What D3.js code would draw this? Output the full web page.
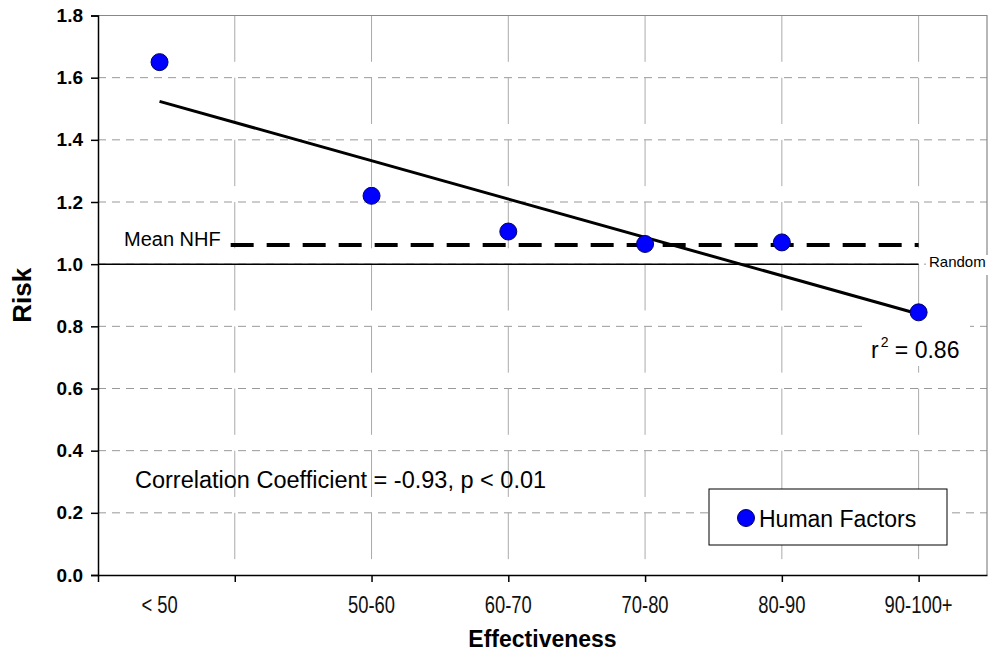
<!DOCTYPE html>
<html lang="en">
<head>
  <meta charset="UTF-8">
  <title>Risk vs Effectiveness</title>
  <script src="https://d3js.org/d3.v7.min.js"></script>
  <style>
    body { margin: 0; background: #fff; font-family: "Liberation Sans", Arial, Helvetica, sans-serif; }
    svg { display: block; }
  </style>
</head>
<body>
<div id="chart"></div>
<script>
// data
var categories = ["< 50", "50-60", "60-70", "70-80", "80-90", "90-100+"];
var xValues = [44.5, 60, 70, 80, 90, 100];
var risk = [1.65, 1.22, 1.105, 1.065, 1.07, 0.845];
var yTicks = [0, 0.2, 0.4, 0.6, 0.8, 1.0, 1.2, 1.4, 1.6, 1.8];
var xTicks = [40, 50, 60, 70, 80, 90, 100];
var meanNHF = 1.062;
var meanNHFRange = [49.7, 100];
var randomLevel = 1.0;
var randomRange = [40, 100];

var width = 992, height = 653;
var plotLeft = 98, plotRight = 987, plotTop = 15.5, plotBottom = 575;

var svg = d3.select("#chart").append("svg")
  .attr("width", width)
  .attr("height", height);

var x = d3.scaleLinear().domain([40, 105]).range([plotLeft, plotRight]);
var y = d3.scaleLinear().domain([0, 1.8]).range([plotBottom, plotTop]);

// horizontal grid (short grey dashes)
svg.append("g").selectAll("line")
  .data(yTicks.filter(function(d){ return d > 0 && d < 1.8; }))
  .enter().append("line")
    .attr("x1", plotLeft).attr("x2", plotRight)
    .attr("y1", function(d){ return y(d); })
    .attr("y2", function(d){ return y(d); })
    .attr("stroke", "#999")
    .attr("stroke-width", 1)
    .attr("stroke-dasharray", "8,6");

// vertical grid (long dashes, gap just above each horizontal gridline)
var period = y(1.6) - y(1.8);
svg.append("g").selectAll("line")
  .data(xTicks.filter(function(d){ return d > 40; }))
  .enter().append("line")
    .attr("x1", function(d){ return x(d); })
    .attr("x2", function(d){ return x(d); })
    .attr("y1", plotTop).attr("y2", plotBottom)
    .attr("stroke", "#aaa")
    .attr("stroke-width", 1)
    .attr("stroke-dasharray", (period * 0.745) + "," + (period * 0.255));

// top and right border
svg.append("path")
  .attr("d", "M" + plotLeft + "," + plotTop + "H" + plotRight + "V" + plotBottom)
  .attr("fill", "none")
  .attr("stroke", "#888")
  .attr("stroke-width", 1.2);

// random line
svg.append("line")
  .attr("x1", x(randomRange[0])).attr("x2", x(randomRange[1]))
  .attr("y1", y(randomLevel)).attr("y2", y(randomLevel))
  .attr("stroke", "#000")
  .attr("stroke-width", 1.5);

// mean NHF dashed line
svg.append("line")
  .attr("x1", x(meanNHFRange[0])).attr("x2", x(meanNHFRange[1]))
  .attr("y1", y(meanNHF)).attr("y2", y(meanNHF))
  .attr("stroke", "#000")
  .attr("stroke-width", 4)
  .attr("stroke-dasharray", "23,13");

// least squares trend line
var mx = d3.mean(xValues), my = d3.mean(risk);
var sxy = d3.sum(xValues, function(d, i){ return (d - mx) * (risk[i] - my); });
var sxx = d3.sum(xValues, function(d){ return (d - mx) * (d - mx); });
var slope = sxy / sxx, icpt = my - slope * mx;
var xEnds = d3.extent(xValues);
svg.append("line")
  .attr("x1", x(xEnds[0])).attr("y1", y(icpt + slope * xEnds[0]))
  .attr("x2", x(xEnds[1])).attr("y2", y(icpt + slope * xEnds[1]))
  .attr("stroke", "#000")
  .attr("stroke-width", 3);

// labels with white backgrounds
svg.append("rect")
  .attr("x", 926).attr("y", 255).attr("width", 66).attr("height", 20)
  .attr("fill", "#fff");
svg.append("text")
  .attr("x", 929).attr("y", 267)
  .attr("font-size", "15px")
  .text("Random");

svg.append("text")
  .attr("x", 124).attr("y", 246)
  .attr("font-size", "20px")
  .text("Mean NHF");

svg.append("rect")
  .attr("x", 866).attr("y", 324).attr("width", 104).attr("height", 42)
  .attr("fill", "#fff");
var r2 = svg.append("text")
  .attr("x", 871).attr("y", 358)
  .attr("font-size", "23px");
r2.append("tspan").text("r");
r2.append("tspan").attr("font-size", "14px").attr("dx", 2).attr("dy", -11).text("2");
r2.append("tspan").attr("dy", 11).text(" = 0.86");

svg.append("text")
  .attr("x", 135).attr("y", 488)
  .attr("font-size", "23.5px")
  .text("Correlation Coefficient = -0.93, p < 0.01");

// points
svg.append("g").selectAll("circle")
  .data(risk)
  .enter().append("circle")
    .attr("cx", function(d, i){ return x(xValues[i]); })
    .attr("cy", function(d){ return y(d); })
    .attr("r", 8.5)
    .attr("fill", "#0000ff")
    .attr("stroke", "#000066")
    .attr("stroke-width", 1);

// y axis
var yAxis = svg.append("g")
  .attr("transform", "translate(" + plotLeft + ",0)")
  .call(d3.axisLeft(y).tickValues(yTicks).tickFormat(d3.format(".1f")).tickSize(7).tickPadding(8));
yAxis.select(".domain").attr("stroke-width", 1.5);
yAxis.selectAll("line").attr("stroke-width", 1.5);
yAxis.selectAll("text")
  .attr("font-family", "'Liberation Sans', Arial, sans-serif")
  .attr("font-size", "19px")
  .attr("font-weight", "bold")
  .attr("fill", "#000");

// x axis ticks
var xAxis = svg.append("g")
  .attr("transform", "translate(0," + plotBottom + ")")
  .call(d3.axisBottom(x).tickValues(xTicks).tickFormat("").tickSize(7).tickSizeOuter(0));
xAxis.select(".domain").attr("stroke-width", 1.5);
xAxis.selectAll("line").attr("stroke-width", 1.5);

// x category labels under the points (narrow face, squeezed horizontally)
svg.append("g").selectAll("text")
  .data(categories)
  .enter().append("text")
    .attr("transform", function(d, i){ return "translate(" + x(xValues[i]) + ",613) scale(0.8,1)"; })
    .attr("text-anchor", "middle")
    .attr("font-size", "23px")
    .attr("fill", "#111")
    .text(function(d){ return d; });

// axis titles
svg.append("text")
  .attr("x", (plotLeft + plotRight) / 2).attr("y", 647)
  .attr("text-anchor", "middle")
  .attr("font-size", "23px")
  .attr("font-weight", "bold")
  .text("Effectiveness");

svg.append("text")
  .attr("transform", "translate(31," + ((plotTop + plotBottom) / 2) + ") rotate(-90)")
  .attr("text-anchor", "middle")
  .attr("font-size", "26px")
  .attr("font-weight", "bold")
  .text("Risk");

// legend
var legend = svg.append("g").attr("transform", "translate(709,489)");
legend.append("rect")
  .attr("width", 238).attr("height", 56)
  .attr("fill", "#fff")
  .attr("stroke", "#000")
  .attr("stroke-width", 1);
legend.append("circle")
  .attr("cx", 37).attr("cy", 29).attr("r", 8.5)
  .attr("fill", "#0000ff").attr("stroke", "#000066");
legend.append("text")
  .attr("x", 50).attr("y", 38)
  .attr("font-size", "23px")
  .text("Human Factors");
</script>
</body>
</html>
